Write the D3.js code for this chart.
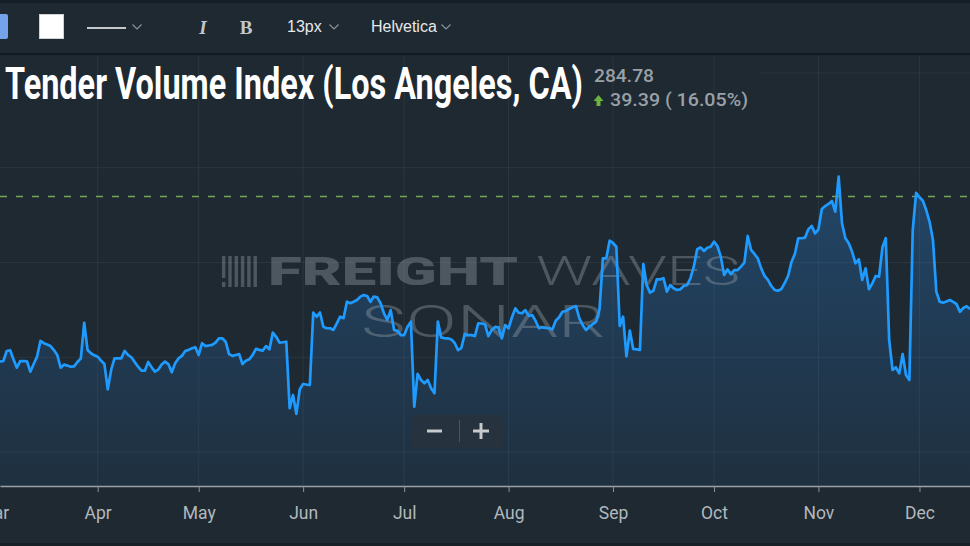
<!DOCTYPE html>
<html>
<head>
<meta charset="utf-8">
<script src="https://cdn.jsdelivr.net/npm/d3@7"></script>
<style>
  html, body { margin: 0; padding: 0; background: #1e2932; overflow: hidden; }
  svg { display: block; }
</style>
</head>
<body>
<div id="chart"></div>
<script>
// Daily index values, one per day starting at startDate
const startDate = "2018-03-03";
const values = [
  197.7,198.0,203.3,203.7,198.9,194.5,198.0,198.0,197.9,192.4,
  196.4,200.3,208.6,207.4,206.7,205.9,203.8,201.2,194.5,196.1,
  195.6,195.0,195.2,197.5,199.4,218.2,203.8,202.1,201.0,200.3,
  198.2,196.4,183.1,193.3,199.4,199.4,199.4,203.3,201.2,200.0,
  197.5,195.0,192.9,192.9,197.5,194.7,192.4,193.5,196.2,197.7,
  196.4,192.1,196.8,199.4,200.7,203.3,203.9,204.7,205.3,201.2,
  207.4,205.9,206.2,206.5,207.7,210.0,210.0,208.2,201.7,200.7,
  201.2,201.7,196.4,198.2,198.9,201.2,204.4,203.9,203.5,205.9,
  204.2,213.0,210.8,207.7,207.9,208.2,173.1,180.1,170.1,183.1,
  185.9,185.6,185.4,223.5,221.4,223.6,216.1,215.3,215.3,214.4,
  217.9,221.4,220.6,229.3,228.5,229.3,230.2,232.0,232.8,232.3,
  229.3,232.0,231.6,228.5,223.2,219.7,224.9,214.4,213.9,211.7,
  211.7,216.1,218.8,173.9,191.2,188.0,186.3,188.0,183.6,181.0,
  218.8,210.5,210.0,210.0,209.4,207.5,203.8,205.0,212.3,211.7,
  211.7,211.2,217.9,217.8,217.4,211.2,214.4,216.0,215.8,210.0,
  217.0,215.3,221.1,225.8,223.5,223.2,224.9,221.8,222.3,219.3,
  215.3,215.8,215.5,215.3,214.7,219.3,221.1,224.0,224.4,225.5,
  226.4,227.0,220.6,217.0,214.4,216.1,217.5,218.8,225.3,252.2,
  252.2,261.5,260.3,258.3,216.5,221.4,200.5,214.1,204.4,204.2,
  203.8,249.2,238.1,234.1,235.1,241.1,241.1,241.7,234.6,238.1,
  236.4,235.5,235.8,237.6,238.1,241.7,247.8,257.0,258.0,256.1,
  257.8,258.3,261.0,258.7,253.1,243.4,246.4,243.8,246.0,246.0,
  247.8,249.9,264.0,256.6,254.5,252.2,246.9,242.9,240.8,237.6,
  235.5,235.1,236.0,239.2,242.9,250.3,254.5,262.8,262.8,263.1,
  267.5,269.3,265.4,267.5,278.2,279.8,280.9,282.5,276.8,295.3,
  270.7,262.8,260.1,255.7,249.6,251.7,240.8,246.9,235.9,239.0,
  242.9,242.5,258.0,262.8,209.1,193.3,194.7,191.5,201.7,190.6,
  188.0,267.1,286.8,284.4,282.6,277.7,271.5,261.9,234.6,229.3,
  228.8,229.4,230.2,229.2,228.1,224.0,226.0,226.9,225.5
];
const monthTicks = ["2018-03-01","2018-04-01","2018-05-01","2018-06-01","2018-07-01",
                    "2018-08-01","2018-09-01","2018-10-01","2018-11-01","2018-12-01"];
const gridValues = [150, 200, 250, 300, 350];
const titleText = "Tender Volume Index (Los Angeles, CA)";
const lastValue = 284.78;
const changeText = "39.39 ( 16.05%)";

const W = 970, H = 546;
const plotTop = 55, plotBottom = 486;
const bg = "#1e2932";

const parse = d3.timeParse("%Y-%m-%d");
const data = values.map((v, i) => ({ date: d3.timeDay.offset(parse(startDate), i), value: v }));

const x = d3.scaleTime()
  .domain([data[0].date, data[data.length - 1].date])
  .range([0, W]);
const y = d3.scaleLinear().domain([150, 350]).range([452, 73]);

const svg = d3.select("#chart").append("svg")
  .attr("width", W)
  .attr("height", H)
  .style("font-family", "Roboto, 'Noto Sans', sans-serif");

const defs = svg.append("defs");
const grad = defs.append("linearGradient")
  .attr("id", "areaGrad")
  .attr("gradientUnits", "userSpaceOnUse")
  .attr("x1", 0).attr("y1", 170).attr("x2", 0).attr("y2", plotBottom);
grad.append("stop").attr("offset", "0%").attr("stop-color", "#2a7fd4").attr("stop-opacity", 0.34);
grad.append("stop").attr("offset", "100%").attr("stop-color", "#2a7fd4").attr("stop-opacity", 0.08);

// background + toolbar band
svg.append("rect").attr("width", W).attr("height", H).attr("fill", bg);
svg.append("rect").attr("width", W).attr("height", 3).attr("fill", "#161e25");
svg.append("line")
  .attr("x1", 0).attr("x2", W).attr("y1", 54).attr("y2", 54)
  .attr("stroke", "#131a20").attr("stroke-width", 2);
svg.append("rect").attr("y", 543).attr("width", W).attr("height", 3).attr("fill", "#172027");

// horizontal grid
svg.append("g").selectAll("line")
  .data(gridValues)
  .join("line")
  .attr("x1", 0).attr("x2", W)
  .attr("y1", d => y(d)).attr("y2", d => y(d))
  .attr("stroke", "#ffffff").attr("stroke-opacity", 0.06);

// legend box hides the top grid line behind the title
svg.append("rect")
  .attr("x", 0).attr("y", 58).attr("width", 760).attr("height", 55)
  .attr("fill", bg);

// vertical grid at month starts
svg.append("g").selectAll("line")
  .data(monthTicks.map(parse))
  .join("line")
  .attr("x1", d => x(d)).attr("x2", d => x(d))
  .attr("y1", plotTop + 1).attr("y2", plotBottom)
  .attr("stroke", "#ffffff").attr("stroke-opacity", 0.06);

// area under the line
const area = d3.area()
  .x(d => x(d.date))
  .y0(plotBottom)
  .y1(d => y(d.value));
svg.append("path")
  .datum(data)
  .attr("d", area)
  .attr("fill", "url(#areaGrad)");

// watermark
const wm = svg.append("g").attr("fill", "#9aa3ab").attr("opacity", 0.38);
d3.range(6).forEach(k => {
  wm.append("rect")
    .attr("x", 222 + k * 6.3).attr("y", 256)
    .attr("width", 3.4).attr("height", k === 0 ? 22 : 31);
});
wm.append("rect").attr("x", 222).attr("y", 282).attr("width", 3.4).attr("height", 5);
wm.append("text")
  .attr("x", 268).attr("y", 285)
  .attr("font-size", 39).attr("font-weight", 900)
  .attr("textLength", 250).attr("lengthAdjust", "spacingAndGlyphs")
  .text("FREIGHT");
wm.append("text")
  .attr("x", 536).attr("y", 285)
  .attr("font-size", 40).attr("font-weight", 300)
  .attr("textLength", 204).attr("lengthAdjust", "spacingAndGlyphs")
  .text("WAVES");
wm.append("text")
  .attr("x", 361).attr("y", 337)
  .attr("font-size", 45).attr("font-weight", 300)
  .attr("textLength", 245).attr("lengthAdjust", "spacingAndGlyphs")
  .text("SONAR");

// last value reference line
svg.append("line")
  .attr("x1", 0).attr("x2", W)
  .attr("y1", y(lastValue)).attr("y2", y(lastValue))
  .attr("stroke", "#79a556").attr("stroke-width", 1.5)
  .attr("stroke-dasharray", "7,9");

// the series line
const line = d3.line()
  .x(d => x(d.date))
  .y(d => y(d.value));
svg.append("path")
  .datum(data)
  .attr("d", line)
  .attr("fill", "none")
  .attr("stroke", "#1f9bff")
  .attr("stroke-width", 2.7)
  .attr("stroke-linejoin", "round");

// x axis
const xAxis = d3.axisBottom(x)
  .tickValues(monthTicks.map(parse))
  .tickFormat(d3.timeFormat("%b"))
  .tickSize(6)
  .tickSizeOuter(0)
  .tickPadding(15);
const gx = svg.append("g")
  .attr("transform", `translate(0,${plotBottom})`)
  .call(xAxis);
gx.select(".domain").attr("stroke", "#9ba2a8").attr("stroke-width", 1.5);
gx.selectAll(".tick line").attr("stroke", "#8d949a");
gx.selectAll(".tick text")
  .attr("fill", "#b3b8bd")
  .attr("font-size", 17.5)
  .attr("font-family", "Roboto, sans-serif");

// zoom buttons
const zb = svg.append("g");
zb.append("rect")
  .attr("x", 412).attr("y", 415).attr("width", 91).attr("height", 33).attr("rx", 3)
  .attr("fill", "#26323d");
zb.append("line").attr("x1", 459.5).attr("x2", 459.5).attr("y1", 420).attr("y2", 442)
  .attr("stroke", "#4a5560");
zb.append("line").attr("x1", 427).attr("x2", 442).attr("y1", 431).attr("y2", 431)
  .attr("stroke", "#c6cacd").attr("stroke-width", 3);
zb.append("line").attr("x1", 473).attr("x2", 489).attr("y1", 431).attr("y2", 431)
  .attr("stroke", "#c6cacd").attr("stroke-width", 3);
zb.append("line").attr("x1", 481).attr("x2", 481).attr("y1", 423).attr("y2", 439)
  .attr("stroke", "#c6cacd").attr("stroke-width", 3);

// toolbar
const tb = svg.append("g");
tb.append("rect").attr("x", -3).attr("y", 14).attr("width", 11).attr("height", 25).attr("rx", 2)
  .attr("fill", "#74a3ea");
tb.append("rect").attr("x", 39.5).attr("y", 14.5).attr("width", 24).attr("height", 24)
  .attr("fill", "#ffffff").attr("stroke", "#cfd3d6");
tb.append("line").attr("x1", 87).attr("x2", 126).attr("y1", 28).attr("y2", 28)
  .attr("stroke", "#ffffff").attr("stroke-width", 1.5);
[137, 334, 446].forEach(cx => {
  tb.append("polyline")
    .attr("points", `${cx - 4.5},${24.5} ${cx},${29} ${cx + 4.5},${24.5}`)
    .attr("fill", "none").attr("stroke", "#8a939b").attr("stroke-width", 1.2);
});
tb.append("text").attr("x", 203).attr("y", 34).attr("text-anchor", "middle")
  .attr("font-family", "'Liberation Serif', 'DejaVu Serif', serif")
  .attr("font-style", "italic").attr("font-weight", "bold").attr("font-size", 19)
  .attr("fill", "#c3c7cb").text("I");
tb.append("text").attr("x", 246).attr("y", 34).attr("text-anchor", "middle")
  .attr("font-family", "'Liberation Serif', 'DejaVu Serif', serif")
  .attr("font-weight", "bold").attr("font-size", 19)
  .attr("fill", "#c3c7cb").text("B");
tb.append("text").attr("x", 287).attr("y", 32)
  .attr("font-family", "'Liberation Sans', Arial, sans-serif").attr("font-size", 16)
  .attr("fill", "#e6e8ea").text("13px");
tb.append("text").attr("x", 371).attr("y", 32)
  .attr("font-family", "'Liberation Sans', Arial, sans-serif").attr("font-size", 16)
  .attr("fill", "#e6e8ea").text("Helvetica");

// title + last value
svg.append("text")
  .attr("x", 5).attr("y", 99)
  .attr("font-size", 45).attr("font-weight", "bold")
  .attr("fill", "#ffffff")
  .attr("textLength", 578).attr("lengthAdjust", "spacingAndGlyphs")
  .text(titleText);
svg.append("text")
  .attr("x", 594).attr("y", 82)
  .attr("font-size", 18).attr("font-weight", 500)
  .attr("fill", "#9aa0a6")
  .attr("textLength", 60).attr("lengthAdjust", "spacingAndGlyphs")
  .text(d3.format(".2f")(lastValue));
svg.append("path")
  .attr("d", "M598.5,95 L603.5,101 L600.5,101 L600.5,106 L596.5,106 L596.5,101 L593.5,101 Z")
  .attr("fill", "#6cb33f");
svg.append("text")
  .attr("x", 610).attr("y", 106)
  .attr("font-size", 18).attr("font-weight", 500)
  .attr("fill", "#9aa0a6")
  .attr("textLength", 138).attr("lengthAdjust", "spacingAndGlyphs")
  .text(changeText);
</script>
</body>
</html>
